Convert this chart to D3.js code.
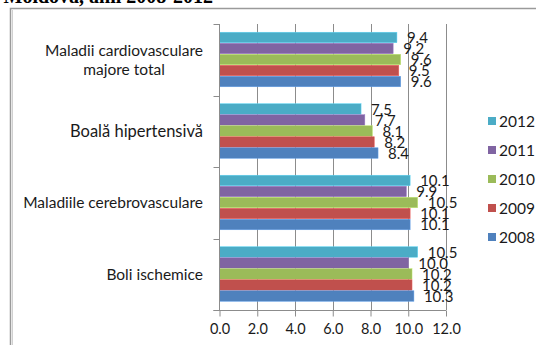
<!DOCTYPE html>
<html>
<head>
<meta charset="utf-8">
<script src="https://cdn.jsdelivr.net/npm/d3@7"></script>
<style>
  html, body { margin: 0; padding: 0; background: #fff; }
  svg { display: block; }
  text { font-family: Lato, "Open Sans", sans-serif; fill: #1a1a1a; }
</style>
</head>
<body>
<svg id="chart" width="536" height="345"></svg>
<script>
// Disease groups (top to bottom) and their label lines
const categories = [
  "Maladii cardiovasculare majore total",
  "Boală hipertensivă",
  "Maladiile cerebrovasculare",
  "Boli ischemice"
];
const categoryLines = [
  ["Maladii cardiovasculare", "majore total"],
  ["Boală hipertensivă"],
  ["Maladiile cerebrovasculare"],
  ["Boli ischemice"]
];
// Years, listed in the order the bars are stacked within each group
const years = ["2012", "2011", "2010", "2009", "2008"];
const colors = ["#4bacc6", "#8064a2", "#9bbb59", "#c0504d", "#4f81bd"];

// Values per year, one entry per category
const v2012 = [9.4, 7.5, 10.1, 10.5];
const v2011 = [9.2, 7.7, 9.9, 10.0];
const v2010 = [9.6, 8.1, 10.5, 10.2];
const v2009 = [9.5, 8.2, 10.1, 10.2];
const v2008 = [9.6, 8.4, 10.1, 10.3];
const series = [v2012, v2011, v2010, v2009, v2008];

const xTicks = [0, 2, 4, 6, 8, 10, 12];

const svg = d3.select("#chart");

// Caption line above the chart frame (runs past the top edge)
svg.append("text")
  .attr("x", 213).attr("y", 3)
  .attr("text-anchor", "end")
  .style("font-family", "'Liberation Serif', serif")
  .style("font-weight", "bold")
  .style("font-size", "20px")
  .style("fill", "#000")
  .text("Moldova, anii 2008-2012");

// Chart frame
svg.append("rect")
  .attr("x", 10.5).attr("y", 8.5)
  .attr("width", 600).attr("height", 400)
  .attr("fill", "#fff")
  .attr("stroke", "#9a9a9a")
  .attr("stroke-width", 1.5);
svg.append("line")
  .attr("x1", 12.5).attr("x2", 12.5).attr("y1", 10).attr("y2", 345)
  .attr("stroke", "#d0d0d0").attr("stroke-width", 1);

const plot = { left: 219.5, right: 446, top: 24, bottom: 310 };

const x = d3.scaleLinear().domain([0, 12]).range([plot.left, plot.right]);
const y0 = d3.scaleBand().domain(categories).range([plot.top, plot.bottom]).padding(0);
const gap = y0.bandwidth() * 0.23;
const y1 = d3.scaleBand().domain(years).range([gap / 2, y0.bandwidth() - gap / 2]).padding(0);

// Vertical gridlines
svg.append("g")
  .selectAll("line")
  .data(xTicks.slice(1))
  .join("line")
  .attr("x1", d => Math.round(x(d)) + 0.5)
  .attr("x2", d => Math.round(x(d)) + 0.5)
  .attr("y1", plot.top)
  .attr("y2", plot.bottom)
  .attr("stroke", "#8c8c8c")
  .attr("stroke-width", 1);

// Bars
const groups = svg.append("g")
  .selectAll("g")
  .data(categories)
  .join("g")
  .attr("transform", d => `translate(0,${y0(d)})`);

groups.each(function (cat, ci) {
  const g = d3.select(this);
  years.forEach((yr, si) => {
    const v = series[si][ci];
    g.append("rect")
      .attr("x", x(0))
      .attr("y", y1(yr))
      .attr("width", x(v) - x(0))
      .attr("height", y1.bandwidth() - 0.5)
      .attr("fill", colors[si])
      .attr("stroke", d3.color(colors[si]).brighter(0.6))
      .attr("stroke-width", 0.5);
  });
  years.forEach((yr, si) => {
    const v = series[si][ci];
    g.append("text")
      .attr("x", x(v) + 10)
      .attr("y", y1(yr) + y1.bandwidth() / 2)
      .attr("dy", "0.36em")
      .style("font-size", "15px")
      .text(v.toFixed(1));
  });
});

// Category axis (left)
const yAxis = svg.append("g").attr("transform", `translate(${plot.left},0)`);
yAxis.append("line")
  .attr("x1", 0).attr("x2", 0).attr("y1", plot.top).attr("y2", plot.bottom)
  .attr("stroke", "#8c8c8c");
const boundaries = categories.map(c => y0(c)).concat([plot.bottom]);
yAxis.selectAll("line.tick")
  .data(boundaries)
  .join("line")
  .attr("class", "tick")
  .attr("x1", -6).attr("x2", 0)
  .attr("y1", d => Math.round(d) + 0.5).attr("y2", d => Math.round(d) + 0.5)
  .attr("stroke", "#8c8c8c");

categories.forEach((c, i) => {
  const lines = categoryLines[i];
  const cy = y0(c) + y0.bandwidth() / 2;
  const lh = 19;
  const big = i === 1;
  const t = svg.append("text")
    .attr("text-anchor", "middle")
    .style("font-size", big ? "16.5px" : "15.5px");
  lines.forEach((ln, k) => {
    t.append("tspan")
      .attr("x", 0)
      .attr("y", cy + (k - (lines.length - 1) / 2) * lh)
      .attr("dy", "0.36em")
      .text(ln);
  });
  // right edge of the widest line sits at x = 203
  const w = d3.max(t.selectAll("tspan").nodes(), n => n.getComputedTextLength());
  t.selectAll("tspan").attr("x", 203 - w / 2);
});

// Value axis (bottom)
const xAxis = d3.axisBottom(x)
  .tickValues(xTicks)
  .tickFormat(d3.format(".1f"))
  .tickSize(6)
  .tickPadding(7);
const xg = svg.append("g")
  .attr("transform", `translate(0,${plot.bottom + 0.5})`)
  .call(xAxis);
xg.select(".domain").attr("stroke", "#8c8c8c").attr("d", `M${plot.left - 6},0H${plot.right}`);
xg.selectAll(".tick line").attr("stroke", "#8c8c8c");
xg.selectAll(".tick text")
  .style("font-family", "Lato, 'Open Sans', sans-serif")
  .style("font-size", "14.5px")
  .style("fill", "#1a1a1a");

// Legend
const legend = svg.append("g");
years.forEach((yr, i) => {
  const ly = 121 + i * 29;
  legend.append("rect")
    .attr("x", 488).attr("y", ly - 4)
    .attr("width", 8).attr("height", 8)
    .attr("fill", colors[i]);
  legend.append("text")
    .attr("x", 499).attr("y", ly)
    .attr("dy", "0.36em")
    .style("font-size", "15.5px")
    .text(yr);
});
</script>
</body>
</html>
